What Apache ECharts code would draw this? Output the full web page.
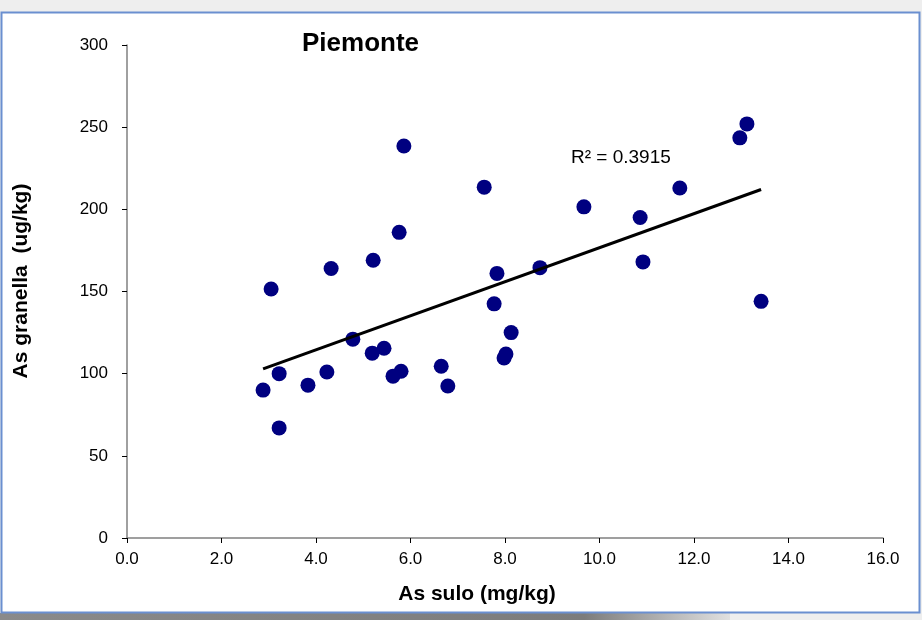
<!DOCTYPE html>
<html>
<head>
<meta charset="utf-8">
<script src="https://cdn.jsdelivr.net/npm/echarts@6/dist/echarts.min.js"></script>
<style>
html,body{margin:0;padding:0;background:#eeeeee;}
#chart{width:922px;height:620px;}
</style>
</head>
<body>
<div id="chart"></div>
<script>
// Data
const asSulo = [2.88,3.05,3.22,3.22,3.83,4.23,4.32,4.78,5.19,5.21,5.44,5.63,5.76,5.80,5.86,6.65,6.79,7.56,7.77,7.83,7.98,8.02,8.13,8.74,9.67,10.86,10.92,11.70,12.97,13.12,13.42];
const asGranella = [90,151.5,100,67,93,101,164,121,112.5,169,115.5,98.5,186,101.5,238.5,104.5,92.5,213.5,142.5,161,109.5,112,125,164.5,201.5,195,168,213,243.5,252,144];
const xTicks = {min:0, max:16, interval:2};
const yTicks = {min:0, max:300, interval:50};
const titleText = 'Piemonte';
const xName = 'As sulo (mg/kg)';
const yName = 'As granella  (ug/kg)';
const r2Text = 'R\u00b2 = 0.3915';

// Linear regression (trendline) computed from the data
const n = asSulo.length;
const mx = asSulo.reduce((a,b)=>a+b,0)/n;
const my = asGranella.reduce((a,b)=>a+b,0)/n;
let sxy=0,sxx=0;
for(let i=0;i<n;i++){sxy+=(asSulo[i]-mx)*(asGranella[i]-my);sxx+=(asSulo[i]-mx)*(asSulo[i]-mx);}
const slope = sxy/sxx, icpt = my - slope*mx;
const xMin = Math.min(...asSulo), xMax = Math.max(...asSulo);
const trend = [[xMin, icpt+slope*xMin],[xMax, icpt+slope*xMax]];

const chart = echarts.init(document.getElementById('chart'));
const font = '"Liberation Sans", Arial, sans-serif';
chart.setOption({
  animation:false,
  backgroundColor:'#eeeeee',
  textStyle:{fontFamily:font},
  graphic:[
    {type:'rect', z:-10, shape:{x:0,y:613,width:730,height:7}, style:{fill:new echarts.graphic.LinearGradient(0,0,1,0,[{offset:0,color:'#8a8a8a'},{offset:0.8,color:'#7c7c7c'},{offset:1,color:'#e0e0e0'}])}},
    {type:'rect', z:-10, shape:{x:1.5,y:12.5,width:918,height:600}, style:{fill:'#ffffff', stroke:'#6a8fd0', lineWidth:2}},
    {type:'text', x:302, y:31, style:{text:titleText, font:'bold 26px '+font, fill:'#000'}},
    {type:'text', x:571, y:148, style:{text:r2Text, font:'19px '+font, fill:'#000'}},
    {type:'text', x:477, y:594, style:{text:xName, font:'bold 21px '+font, fill:'#000', align:'center', verticalAlign:'middle', textAlign:'center', textVerticalAlign:'middle'}},
    {type:'text', x:21, y:281, rotation:Math.PI/2, style:{text:yName, font:'bold 21px '+font, fill:'#000', align:'center', verticalAlign:'middle', textAlign:'center', textVerticalAlign:'middle'}}
  ],
  grid:{left:127, right:39, top:45, bottom:82},
  xAxis:{
    type:'value', min:xTicks.min, max:xTicks.max, interval:xTicks.interval,
    axisLine:{show:true, onZero:false, lineStyle:{color:'#808080', width:1.5}},
    axisTick:{show:true, inside:false, length:5, lineStyle:{color:'#000'}},
    axisLabel:{formatter:v=>v.toFixed(1), fontFamily:font, fontSize:17, color:'#000', margin:13},
    splitLine:{show:false}
  },
  yAxis:{
    type:'value', min:yTicks.min, max:yTicks.max, interval:yTicks.interval,
    axisLine:{show:true, lineStyle:{color:'#808080', width:1.5}},
    axisTick:{show:true, inside:false, length:5, lineStyle:{color:'#000'}},
    axisLabel:{fontFamily:font, fontSize:17, color:'#000', margin:19},
    splitLine:{show:false}
  },
  series:[
    {type:'scatter', data:asSulo.map((x,i)=>[x,asGranella[i]]), symbolSize:15, itemStyle:{color:'#000080', opacity:1}, z:2},
    {type:'line', data:trend, showSymbol:false, symbol:'none', lineStyle:{color:'#000', width:3}, z:3}
  ]
});
</script>
</body>
</html>
